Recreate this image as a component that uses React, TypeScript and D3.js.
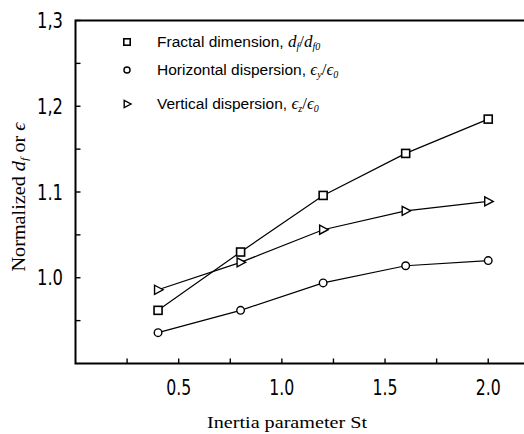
import React from "react";
import * as d3 from "d3";

const stValues = [0.4, 0.8, 1.2, 1.6, 2.0];
const fractalDim = [0.962, 1.030, 1.096, 1.145, 1.185];
const horizDisp = [0.936, 0.962, 0.994, 1.014, 1.020];
const vertDisp = [0.986, 1.018, 1.056, 1.078, 1.089];

const xMajor = [0.5, 1.0, 1.5, 2.0];
const xMinor = [0.25, 0.75, 1.25, 1.75];
const yMajor = [1.0, 1.1, 1.2, 1.3];
const yMinor = [0.95, 1.05, 1.15, 1.25];
const yTickLabels = ["1.0", "1.1", "1,2", "1,3"];
const xTickLabels = ["0.5", "1.0", "1.5", "2.0"];

const W = 524;
const H = 434;

const tickFont = "'DejaVu Sans Condensed', 'Liberation Sans', sans-serif";
const legendFont = "'Liberation Sans', Arial, sans-serif";
const serif = "'Liberation Serif', 'DejaVu Serif', serif";

function Marker({kind, x, y, s = 1}: {kind: string; x: number; y: number; s?: number}) {
  if (kind === "square") {
    return <rect x={x - 4 * s} y={y - 4 * s} width={8 * s} height={8 * s} fill="white" stroke="black" strokeWidth={1.6}/>;
  }
  if (kind === "circle") {
    return <circle cx={x} cy={y} r={3.8 * s} fill="white" stroke="black" strokeWidth={1.4}/>;
  }
  return <path d={`M${x - 3.5 * s},${y - 4.5 * s} L${x + 5 * s},${y} L${x - 3.5 * s},${y + 4.5 * s} Z`} fill="white" stroke="black" strokeWidth={1.4}/>;
}

export default function App() {
  const x = d3.scaleLinear().domain([0, 2.2]).range([75.5, 529.5]);
  const y = d3.scaleLinear().domain([0.9, 1.3]).range([363.5, 20.5]);

  const line = d3.line<[number, number]>()
    .x(d => x(d[0]))
    .y(d => y(d[1]));

  const series = [
    {kind: "square", values: fractalDim},
    {kind: "triangle", values: vertDisp},
    {kind: "circle", values: horizDisp},
  ];

  const legend = [
    {kind: "square", text: "Fractal dimension, ", num: "d", numSub: "f", den: "d", denSub: "f0"},
    {kind: "circle", text: "Horizontal dispersion, ", num: "\u03f5", numSub: "y", den: "\u03f5", denSub: "0"},
    {kind: "triangle", text: "Vertical dispersion, ", num: "\u03f5", numSub: "z", den: "\u03f5", denSub: "0"},
  ];
  const legendY = [42, 70, 104];

  return (
    <svg width={W} height={H} style={{position: "fixed", left: 0, top: 0, background: "white"}}>
      <rect x={0} y={0} width={W} height={H} fill="white"/>
      {/* frame */}
      <path d={`M${x(2.2)},${y(1.3)} H${x(0)} V${y(0.9)} H${x(2.2)}`} fill="none" stroke="black" strokeWidth={2}/>

      {/* y ticks */}
      {[...yMajor, ...yMinor].map(v => (
        <line key={"yt" + v} x1={x(0)} x2={x(0) + 5} y1={y(v)} y2={y(v)} stroke="black" strokeWidth={1.4}/>
      ))}
      {yMajor.map((v, i) => (
        <text key={"yl" + v} x={63} y={y(v) + 7.5} textAnchor="end" fontFamily={tickFont} fontSize={21}
              textLength={26} lengthAdjust="spacingAndGlyphs">
          {yTickLabels[i]}
        </text>
      ))}

      {/* x ticks */}
      {[...xMajor, ...xMinor].map(v => (
        <line key={"xt" + v} x1={x(v)} x2={x(v)} y1={y(0.9)} y2={y(0.9) - 5} stroke="black" strokeWidth={1.4}/>
      ))}
      {xMajor.map((v, i) => (
        <text key={"xl" + v} x={x(v)} y={395} textAnchor="middle" fontFamily={tickFont} fontSize={21}
              textLength={25} lengthAdjust="spacingAndGlyphs">
          {xTickLabels[i]}
        </text>
      ))}

      {/* axis titles */}
      <text x={287} y={428} textAnchor="middle" fontFamily={serif} fontSize={16}
            textLength={160} lengthAdjust="spacingAndGlyphs">Inertia parameter St</text>
      <text transform={`translate(25,197) rotate(-90)`} textAnchor="middle" fontFamily={serif} fontSize={18}
            textLength={149} lengthAdjust="spacingAndGlyphs">
        Normalized <tspan fontStyle="italic">d</tspan><tspan fontStyle="italic" fontSize={11} dy={3}>f</tspan><tspan dy={-3}> or </tspan><tspan fontStyle="italic">{"\u03f5"}</tspan>
      </text>

      {/* series */}
      {series.map(s => (
        <g key={s.kind}>
          <path d={line(stValues.map((v, i) => [v, s.values[i]] as [number, number])) || ""} fill="none" stroke="black" strokeWidth={1.2}/>
          {stValues.map((v, i) => <Marker key={i} kind={s.kind} x={x(v)} y={y(s.values[i])}/>)}
        </g>
      ))}

      {/* legend */}
      {legend.map((l, i) => (
        <g key={l.kind}>
          <Marker kind={l.kind} x={127} y={legendY[i]} s={0.8}/>
          <text x={157} y={legendY[i] + 5} fontFamily={legendFont} fontSize={15.5}>
            {l.text}
            <tspan fontFamily={serif} fontStyle="italic" fontSize={17}>{l.num}</tspan>
            <tspan fontFamily={serif} fontStyle="italic" fontSize={10} dy={3}>{l.numSub}</tspan>
            <tspan fontFamily={serif} fontSize={17} dy={-3}>/</tspan>
            <tspan fontFamily={serif} fontStyle="italic" fontSize={17}>{l.den}</tspan>
            <tspan fontFamily={serif} fontStyle="italic" fontSize={10} dy={3}>{l.denSub}</tspan>
          </text>
        </g>
      ))}
    </svg>
  );
}
